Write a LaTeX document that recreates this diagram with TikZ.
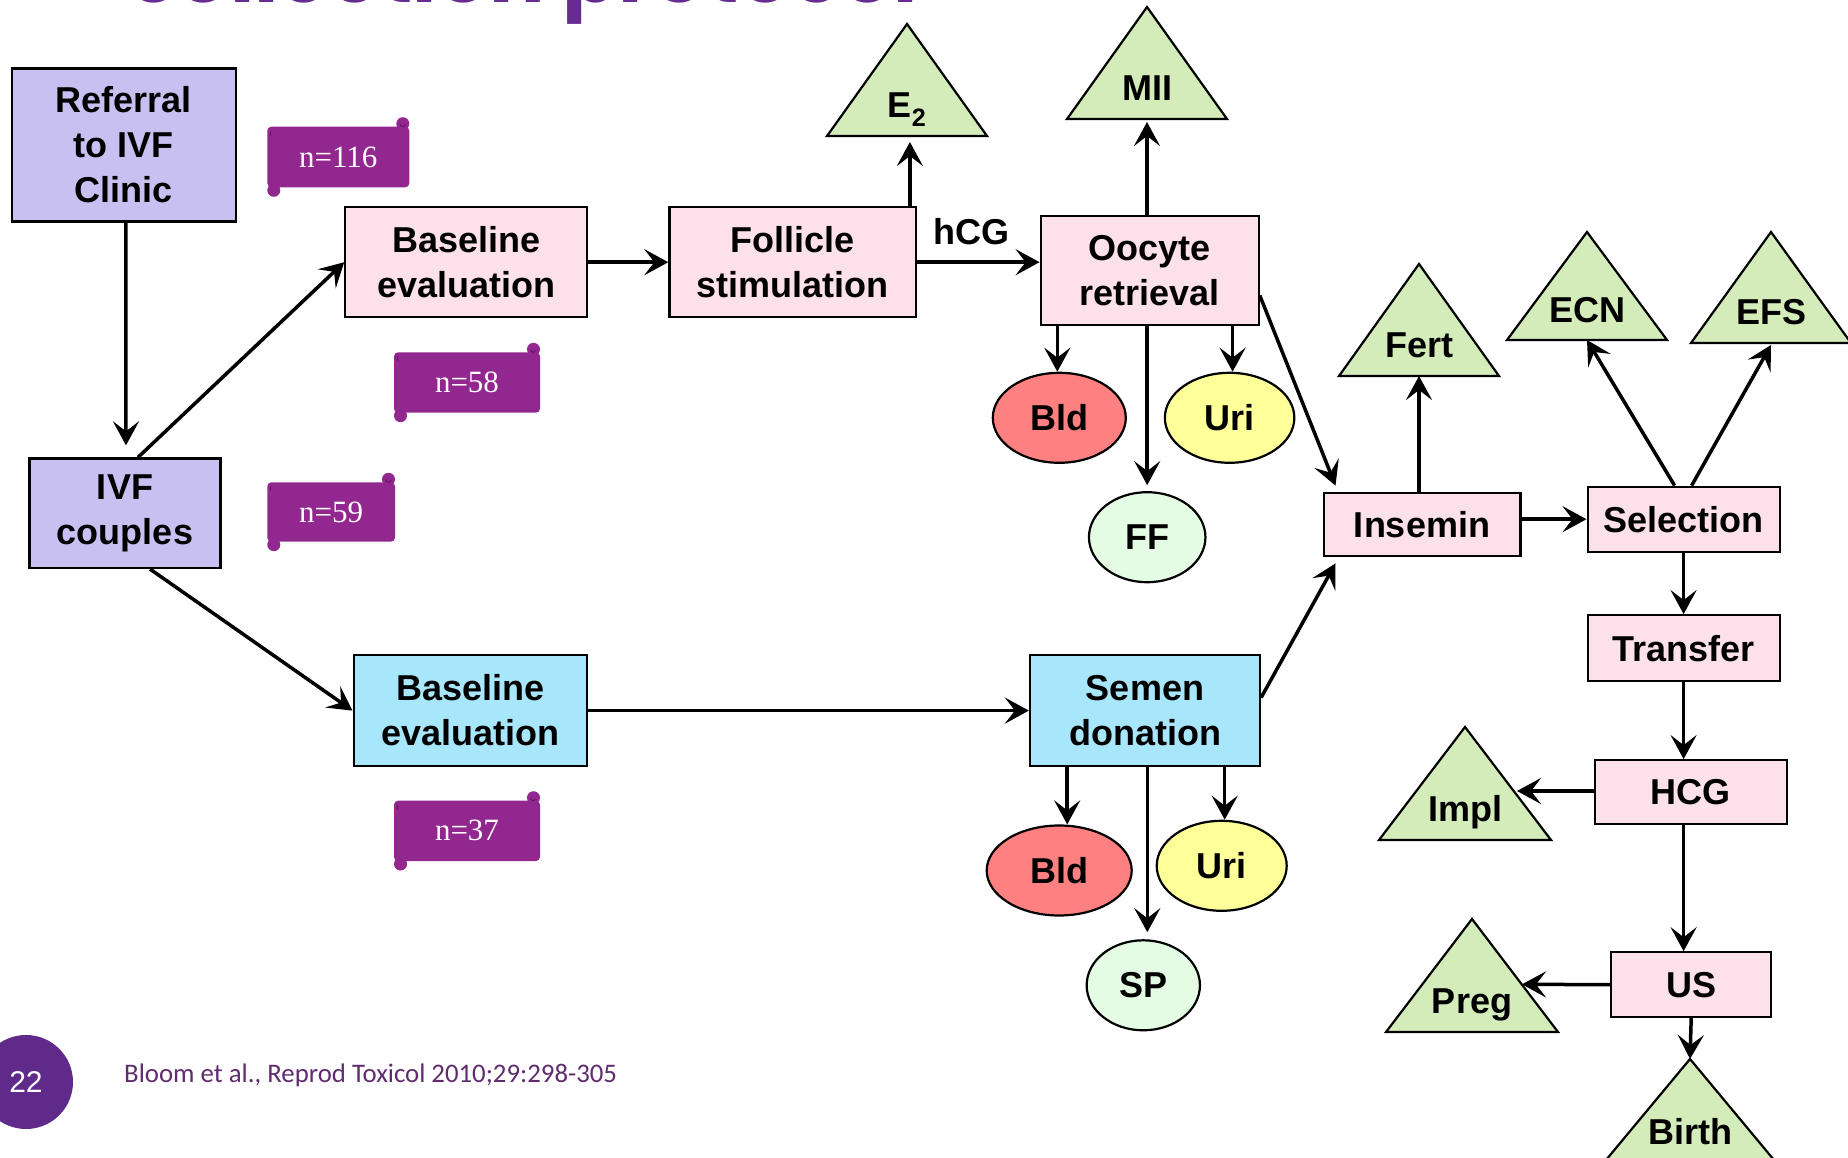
\documentclass[tikz,border=0pt]{standalone}
\usepackage{fontspec}
\setmainfont{Liberation Sans}
\newfontfamily\serifn{Liberation Serif}
\newfontfamily\calib{Carlito}
\newfontfamily\titlef{Poppins}
\usetikzlibrary{arrows.meta,shapes.geometric,calc}
\definecolor{lavc}{RGB}{200,192,240}
\definecolor{pinkc}{RGB}{252,224,234}
\definecolor{bluec}{RGB}{168,230,252}
\definecolor{trig}{RGB}{212,236,186}
\definecolor{redc}{RGB}{255,128,128}
\definecolor{yelc}{RGB}{255,255,153}
\definecolor{lgrc}{RGB}{228,252,228}
\definecolor{scrollc}{RGB}{146,39,143}
\definecolor{scrolld}{RGB}{95,20,95}
\definecolor{titlec}{RGB}{102,44,145}
\definecolor{circc}{RGB}{96,42,138}
\definecolor{citec}{RGB}{96,44,110}
\newcommand\gtri[6]{%
  \draw[tri] (#2,#3) -- ({#2+#4},#5) -- ({#2-#4},#5) -- cycle;
  \node[tritext] (#1) at (#2,{#3+0.72*(#5-#3)+13}) {#6};
  \coordinate (#1-b) at (#2,#5);
  \coordinate (#1-a) at (#2,#3);
}
\newcommand\nscroll[6]{%
  \fill[scrollc, rounded corners=4pt] (#2,#3) rectangle (#4,#5);
  \fill[scrollc] ({#4-6.5},{#3-3}) circle[radius=6.5];
  \fill[scrollc] ({#2+6.5},{#5+3}) circle[radius=6.5];
  \draw[scrolld, line width=0.8pt] ({#4-6.5},{#3-3}) ++(-3,0) arc[start angle=180, end angle=20, radius=3];
  \draw[scrolld, line width=0.8pt] ({#2+3},{#3+4}) -- ({#2+3},{#3+9});
  \node[ntext] (#1) at ({(#2+#4)/2},{(#3+#5)/2}) {#6};
}
\begin{document}
\begin{tikzpicture}[x=1pt,y=-1pt,
  bfont/.style={font=\fontsize{36}{45}\selectfont\bfseries},
  box/.style={draw=black, line width=2.2pt, align=center, inner sep=0pt, bfont, text=black},
  ell/.style={ellipse, draw=black, line width=2.2pt, inner sep=0pt, bfont, minimum height=90pt},
  arr/.style={line width=3.5pt, -{Stealth[length=24pt,width=26pt,inset=10pt]}},
  tri/.style={draw=black, line width=2.2pt, fill=trig, line join=miter},
  tritext/.style={bfont, anchor=base, inner sep=0pt},
  lbl/.style={bfont, inner sep=0pt},
  ntext/.style={text=white, inner sep=0pt, font=\serifn\fontsize{31}{31}\selectfont}]
\useasboundingbox (0,0) rectangle (1848,1158);
\clip (0,0) rectangle (1848,1158);

% title (cut off at top)
\node[anchor=base west, inner sep=0pt, text=titlec] (title) at (128,3)
  {\resizebox{790pt}{!}{\titlef\bfseries\fontsize{80}{80}\selectfont collection protocol}};

% boxes
\node[box, fill=lavc, minimum width=224pt, minimum height=153pt] (ref) at (123.75,145) {Referral\\to IVF\\Clinic};
\node[box, fill=lavc, minimum width=191pt, minimum height=109.5pt] (ivf) at (125,513.2) {\raisebox{-5pt}{\begin{tabular}{@{}c@{}}IVF\\couples\end{tabular}}};
\node[box, fill=pinkc, minimum width=241.7pt, minimum height=109.6pt] (base1) at (466.2,262.2) {Baseline\\evaluation};
\node[box, fill=bluec, minimum width=233.4pt, minimum height=110.7pt] (base2) at (470.3,710.6) {Baseline\\evaluation};
\node[box, fill=pinkc, minimum width=246.4pt, minimum height=109.6pt] (foll) at (792.6,262.2) {Follicle\\stimulation};
\node[box, fill=pinkc, minimum width=218pt, minimum height=109.6pt] (ooc) at (1149.7,270.5) {Oocyte\\retrieval};
\node[box, fill=bluec, minimum width=230pt, minimum height=110.7pt] (semen) at (1145,710.6) {Semen\\donation};
\node[box, fill=pinkc, minimum width=196.8pt, minimum height=63.6pt] (ins) at (1422,524.5) {Insemin};
\node[box, fill=pinkc, minimum width=192pt, minimum height=65pt] (sel) at (1683.6,519.2) {Selection};
\node[box, fill=pinkc, minimum width=192pt, minimum height=66pt] (trans) at (1683.6,648.2) {Transfer};
\node[box, fill=pinkc, minimum width=192pt, minimum height=63.6pt] (hcg) at (1690.6,792) {HCG};
\node[box, fill=pinkc, minimum width=160.3pt, minimum height=64.8pt] (us) at (1691.2,984.7) {US};

% ellipses
\node[ell, fill=redc, minimum width=133pt] (bld1) at (1059.3,417.8) {Bld};
\node[ell, fill=yelc, minimum width=129.5pt] (uri1) at (1229.6,417.8) {Uri};
\node[ell, fill=lgrc, minimum width=116.5pt] (ff) at (1147.2,537.2) {FF};
\node[ell, fill=redc, minimum width=145pt] (bld2) at (1059.2,870.5) {Bld};
\node[ell, fill=yelc, minimum width=130pt] (uri2) at (1221.7,865.8) {Uri};
\node[ell, fill=lgrc, minimum width=113.3pt] (sp) at (1143.3,985.3) {SP};

% triangles
\gtri{e2}{907}{24}{80}{136}{E\textsubscript{2}}
\gtri{mii}{1147}{7}{80}{119}{MII}
\gtri{fert}{1419}{264}{80}{376}{Fert}
\gtri{ecn}{1587}{232}{80}{340}{ECN}
\gtri{efs}{1771}{232}{80}{343}{EFS}
\gtri{impl}{1465}{727}{86}{840}{Impl}
\gtri{preg}{1472}{919}{86}{1032}{Preg}
\gtri{birth}{1690}{1059}{84}{1160}{Birth}

% scrolls
\nscroll{n116}{267.3}{126.7}{409.3}{187.3}{n=116}
\nscroll{n58}{394}{352.3}{540}{412.7}{n=58}
\nscroll{n59}{267.3}{482.3}{395}{541.7}{n=59}
\nscroll{n37}{394}{800.7}{540}{861}{n=37}

% labels
\node[lbl] (hcgl) at (971,232) {hCG};
\node[circle, fill=circc, minimum size=94pt, inner sep=0pt, text=white, font=\fontsize{30}{30}\selectfont] (pg) at (26,1082) {22};
\node[anchor=west, inner sep=0pt, text=citec, font=\calib\fontsize{26.8}{26.8}\selectfont] (cite) at (124,1075) {Bloom et al., Reprod Toxicol 2010;29:298-305};

% free ends
\coordinate (implr) at (1517,791);
\coordinate (pregr) at (1522,984.3);

% connectors
\draw[arr] ([xshift=2pt]ref.south) -- ([xshift=1pt,yshift=12pt]ivf.north);
\draw[arr] ([xshift=13pt]ivf.north) -- (base1.west);
\draw[arr] ([xshift=25pt]ivf.south) -- (base2.west);
\draw[arr] (base1.east) -- (foll.west);
\draw[arr] ([xshift=-7pt]foll.north east) coordinate (fe) -- ([yshift=-6pt]fe |- e2-b);
\draw[arr] (foll.east) -- (foll.east -| ooc.west);
\draw[arr] (mii-b |- ooc.north) -- ([yshift=-3pt]mii-b);
\draw[arr] ([xshift=-2pt]bld1.north |- ooc.south) -- ([xshift=-2pt]bld1.north);
\draw[arr] ([xshift=3pt]uri1.north |- ooc.south) -- ([xshift=3pt]uri1.north);
\draw[arr] (ff.north |- ooc.south) -- ([yshift=6pt]ff.north);
\draw[arr] ([yshift=-25pt]ooc.east) -- ([xshift=13pt,yshift=6pt]ins.north west);
\draw[arr] (base2.east) -- (semen.west);
\draw[arr] ([xshift=8pt]bld2.north |- semen.south) -- ([xshift=8pt]bld2.north);
\draw[arr] ([xshift=3pt]uri2.north |- semen.south) -- ([xshift=3pt]uri2.north);
\draw[arr] ([xshift=4pt]sp.north |- semen.south) -- ([xshift=4pt,yshift=7pt]sp.north);
\draw[arr] ([yshift=13pt]semen.east) -- ([xshift=13pt,yshift=-6pt]ins.south west);
\draw[arr] (fert-b |- ins.north) -- (fert-b);
\draw[arr] (sel.west -| ins.east) -- (sel.west);
\draw[arr] ([xshift=-9pt]sel.north) -- (ecn-b);
\draw[arr] ([xshift=8pt]sel.north) -- ([yshift=-2pt]efs-b);
\draw[arr] (sel.south) -- (trans.north);
\draw[arr] (trans.south) -- (trans.south |- hcg.north);
\draw[arr] ([yshift=1pt]hcg.west) -- (implr);
\draw[arr] (trans.south |- hcg.south) -- (trans.south |- us.north);
\draw[arr] (us.west) -- (pregr);
\draw[arr] (us.south) -- (birth-a);
\end{tikzpicture}
\end{document}
